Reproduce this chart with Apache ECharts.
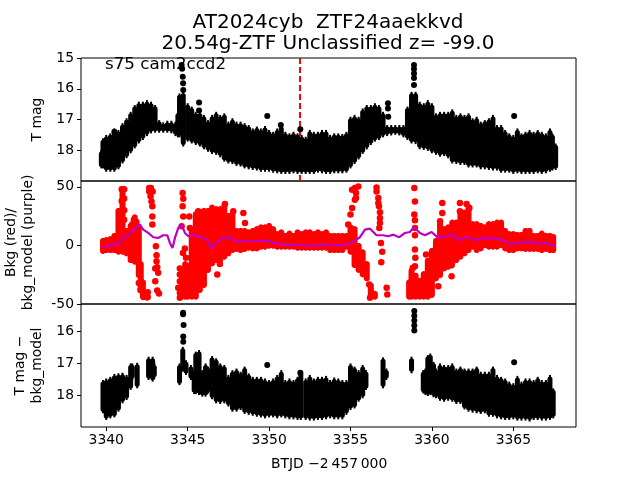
<!DOCTYPE html>
<html><head><meta charset="utf-8">
<style>html,body{margin:0;padding:0;background:#fff}#c{width:640px;height:480px}</style>
<script src="https://cdn.jsdelivr.net/npm/echarts@6/dist/echarts.min.js"></script>
</head><body><div id="c"></div>
<script>
const xTicks=[3340,3345,3350,3355,3360,3365];
const magTicks1=[15,16,17,18];
const bkgTicks=[-50,0,50];
const magTicks3=[16,17,18];
const titleText='AT2024cyb  ZTF24aaekkvd\n20.54g-ZTF Unclassified z= -99.0';
const sectorText='s75 cam2ccd2';
const markerTime=[3351.9,3351.9];
const markerMag=[15,19];

// panel 1: extent of the photometry at each time
const t1=[3339.7,3339.8,3340,3340.25,3340.5,3340.75,3341,3341.25,3341.5,3341.75,3342,3342.25,3342.5,3342.75,3343,3343.25,3343.5,3343.75,3344,3344.25,3344.4,3344.5,3344.73,3345,3345.25,3345.5,3345.75,3346,3346.25,3346.5,3346.75,3347,3347.25,3347.5,3347.75,3348,3348.25,3348.5,3348.75,3349,3349.25,3349.5,3349.75,3350,3350.25,3350.5,3350.75,3351,3351.25,3351.5,3351.75,3352,3352.25,3352.5,3352.75,3353,3353.25,3353.5,3353.75,3354,3354.25,3354.5,3354.75,3355,3355.25,3355.5,3355.75,3356,3356.25,3356.5,3356.75,3357,3357.25,3357.5,3357.75,3358,3358.25,3358.5,3358.75,3359,3359.25,3359.5,3359.75,3360,3360.25,3360.5,3360.75,3361,3361.25,3361.5,3361.75,3362,3362.25,3362.5,3362.75,3363,3363.25,3363.5,3363.75,3364,3364.25,3364.5,3364.75,3365,3365.25,3365.5,3365.75,3366,3366.25,3366.5,3366.75,3367,3367.25,3367.4,3367.6];
const top1=[17.99,17.61,17.50,17.45,17.29,17.34,17.12,16.96,16.75,16.53,16.42,16.42,16.37,16.42,16.53,17.02,17.09,17.04,17.04,17.07,16.75,16.15,16.10,16.47,16.58,16.75,16.75,16.85,17.02,16.85,16.75,16.85,16.80,17.07,16.96,17.07,17.07,17.12,17.18,17.29,17.23,17.29,17.21,17.34,17.40,17.29,17.18,17.40,17.45,17.40,17.45,17.50,17.56,17.34,17.40,17.40,17.34,17.34,17.50,17.45,17.45,17.47,17.40,16.91,16.85,16.91,16.64,16.53,16.53,16.47,16.53,16.75,17.18,17.18,17.18,17.18,17.18,16.58,16.10,16.10,16.42,16.47,16.37,16.47,16.80,16.75,16.75,16.75,16.67,16.85,16.80,16.85,16.80,16.96,16.91,17.07,17.02,16.96,16.85,17.18,17.18,17.34,17.45,17.50,17.29,17.45,17.40,17.34,17.40,17.34,17.40,17.45,17.29,17.45,17.78];
const bot1=[18.59,18.59,18.70,18.70,18.70,18.62,18.43,18.26,18.10,17.94,17.78,17.67,17.54,17.45,17.43,17.43,17.43,17.43,17.45,17.54,17.58,17.58,17.88,17.72,17.78,17.83,17.88,17.97,18.05,18.12,18.15,18.23,18.37,18.43,18.45,18.51,18.53,18.59,18.62,18.64,18.66,18.70,18.70,18.70,18.73,18.75,18.77,18.77,18.77,18.75,18.77,18.77,18.77,18.77,18.77,18.73,18.75,18.77,18.77,18.75,18.75,18.75,18.73,18.59,18.45,18.30,18.12,17.97,17.83,17.72,17.67,17.58,17.54,17.52,17.50,17.52,17.58,17.67,17.78,17.80,17.97,17.99,18.02,18.10,18.15,18.21,18.19,18.26,18.43,18.45,18.48,18.48,18.56,18.56,18.56,18.62,18.62,18.64,18.66,18.66,18.73,18.73,18.73,18.77,18.75,18.77,18.77,18.77,18.77,18.75,18.77,18.75,18.70,18.66,18.64];
const dots1=[[3344.63,15.23],[3344.66,15.35],[3344.7,15.61],[3344.72,15.82],[3344.73,16.04],[3345.7,16.45],[3345.7,16.71],[3349.89,16.89],[3351.92,17.32],[3350.72,17.18],[3357.3,16.47],[3357.3,16.64],[3357.32,16.91],[3358.9,15.23],[3358.9,15.36],[3358.9,15.5],[3358.9,15.65],[3358.9,15.88],[3365.05,16.89],[3339.95,17.75],[3340.5,17.4]];

// panel 2: extent of the background points at each time
const t2=[3339.8,3340,3340.25,3340.5,3340.75,3341,3341.25,3341.5,3341.75,3342,3342.12,3342.25,3342.5,3344.65,3344.85,3345,3345.25,3345.5,3345.75,3346,3346.25,3346.5,3346.75,3347,3347.25,3347.5,3347.75,3348,3348.25,3348.5,3348.75,3349,3349.25,3349.5,3349.75,3350,3350.25,3350.5,3350.75,3351,3351.25,3351.5,3351.75,3352,3352.25,3352.5,3352.75,3353,3353.25,3353.5,3353.75,3354,3354.25,3354.5,3354.75,3355,3355.25,3355.5,3355.75,3356,3356.25,3356.5,3358.6,3358.75,3359,3359.25,3359.5,3359.75,3360,3360.25,3360.5,3360.75,3361,3361.25,3361.5,3361.75,3362,3362.25,3362.5,3362.75,3363,3363.25,3363.5,3363.75,3364,3364.25,3364.5,3364.75,3365,3365.25,3365.5,3365.75,3366,3366.25,3366.5,3366.75,3367,3367.25,3367.45];
const top2=[6.4,7,7.8,10.65,32,49.5,14.9,19.2,26.3,17.8,-13.5,-29.1,-40.5,-19.2,-13.5,-14.9,14.9,29.1,30.5,32,32,34.8,33.4,33.4,36.2,27.7,29.1,14.9,14.9,14.9,13.5,14.9,16.3,17.8,17.8,19.2,16.3,12.1,13.5,10.65,12.6,10.65,13.5,12.1,13.5,13.5,12.1,13.5,12.1,13.5,10.65,10.65,10.65,10.65,10.65,17.8,16.3,2.1,-3.5,-13.5,-31.9,-39,-29.1,-19.2,-23.4,-27.7,-22,-10.6,-2.1,6.4,20.6,16.3,17.8,22,22,30.5,30.5,35.4,20.6,20.6,19.2,17.8,20.6,20.6,22,22,14.9,12.1,12.1,11.5,11.5,14.9,14.9,10.65,10.65,12.6,10.65,10.65,9.8];
const bot2=[-7.2,-6.4,-6.4,-6.4,-7.8,-7.8,-9.2,-14.9,-16.3,-27.7,-40.5,-46.1,-47,-46.1,-46.1,-46.1,-46.1,-46.1,-40.5,-36.2,-23.4,-17.7,-14.9,-14.9,-12,-9.2,-6.4,-5.5,-6.4,-5.5,-4.4,-5,-5,-3.5,-3.5,-2.7,-2.7,-3.5,-3.5,-3.5,-3.5,-3.5,-4.4,-4.4,-4.4,-4.4,-4.4,-4.4,-4.4,-4.4,-6.4,-6.4,-6.4,-6.4,-3.5,-7.8,-19.2,-23.4,-27.1,-30.5,-46.1,-46.1,-46.1,-46.1,-46.1,-46.1,-46.1,-46.1,-44.7,-30.5,-27.7,-22,-20.6,-17.7,-14.9,-12,-9.2,-6.4,-3.5,-6.4,-5,-2.1,-3.5,-3.5,-3.5,-2.1,-5,-6.4,-6.4,-5,-5,-5.5,-5.5,-5.5,-5.5,-6.4,-5.5,-6.4,-6.4];
const dots2=[[3340.95,48],[3341.1,48],[3341.1,40],[3340.95,38],[3341.1,30],[3340.85,25],[3341.1,22],[3341.7,22],[3341.85,20],[3341.6,18],[3342,-32],[3342.1,-38],[3342.3,-44],[3342.55,-44],[3342.55,-40],[3342.2,-33],[3342.64,49],[3342.74,49],[3342.64,46.1],[3342.85,46.1],[3342.72,41.9],[3342.78,37.6],[3342.83,33.4],[3342.83,24.8],[3342.83,17.8],[3343.05,-0.7],[3343.09,-8.4],[3343.09,-13.5],[3343.13,-18.6],[3343.01,-19.7],[3343.19,-23.4],[3343.01,-30.5],[3343.13,-38.5],[3343.24,-41],[3344.42,-36.2],[3344.52,-19.7],[3344.52,-24.8],[3344.52,-30.5],[3344.52,-40.5],[3344.52,-44.7],[3344.69,44.7],[3344.73,39.9],[3344.69,33.4],[3344.73,24.8],[3344.63,16.3],[3344.83,-2.7],[3344.71,-6.4],[3344.9,-10.6],[3345.1,24.8],[3345.14,14.9],[3345.65,29.1],[3346.82,-24.8],[3346.98,-15.8],[3347.29,35.4],[3347.8,29.1],[3348.42,27.7],[3348.52,19.2],[3355.48,50.4],[3355.27,49],[3355.1,47.6],[3355.34,44.7],[3355.34,40.5],[3355.27,39],[3355.1,32],[3355,26.3],[3354.86,17.8],[3356.6,49.5],[3356.6,46.1],[3356.71,40.5],[3356.71,36.2],[3356.75,33.4],[3356.81,28.3],[3356.81,23.4],[3356.81,19.2],[3356.77,14.9],[3356.87,2.1],[3356.95,-5.5],[3356.89,-14.3],[3357.22,-36.2],[3357.26,-41.9],[3358.92,49],[3358.96,37.6],[3358.92,26.3],[3358.96,21.4],[3358.96,14.9],[3358.96,8.7],[3358.96,-3.5],[3358.98,-10.6],[3358.96,-17.7],[3358.82,-19.2],[3360.64,36.2],[3360.64,27.7],[3360.5,20.6],[3361.72,36.2],[3361.72,29.1],[3362.13,35.4],[3362.3,32],[3361.21,-16.9],[3361.21,-26.3],[3360.39,-34.8],[3359.64,-7.8],[3356.15,-33.4],[3356.3,-40.5],[3356.2,-44.7]];
const modelTime=[3339.75,3340.02,3340.43,3340.74,3341.04,3341.35,3341.66,3341.9,3342.07,3342.27,3342.58,3342.89,3343.19,3343.5,3343.75,3343.91,3344.07,3344.22,3344.42,3344.63,3344.83,3345.04,3345.34,3345.75,3346.16,3346.47,3346.78,3347.19,3347.6,3348.01,3348.62,3349.23,3349.85,3350.46,3351.08,3351.9,3352.71,3353.53,3353.94,3354.76,3355.17,3355.58,3355.89,3356.2,3356.6,3357.01,3357.32,3357.63,3358,3358.35,3358.65,3358.9,3359.27,3359.57,3359.98,3360.39,3360.9,3361.31,3361.62,3362.13,3362.64,3363.15,3363.77,3364.28,3364.79,3365.41,3366.02,3366.63,3367.04,3367.55];
const modelBkg=[-1.3,-0.7,0.7,1.6,6.4,9.2,12.6,16.3,17.8,13.5,10.65,7,6.4,8.7,8.7,2.1,-2.1,6.4,14.9,17.8,10.65,7.8,8.7,7.8,5,-2.1,2.1,7,6.4,3.55,3.55,3.55,4.1,1.3,0.7,0.15,-0.1,0.7,0.15,0.7,3,7,13.5,14.3,8.7,8.7,7.8,9.2,7,10.65,11.5,15.5,10.65,8.7,11.5,6.4,7.8,9.2,4.4,7.2,4.4,6.4,5.8,5,1.3,2.1,3,1.6,2.1,-0.7];

// panel 3: extent of the background-corrected photometry at each time
const t3=[3339.8,3340,3340.25,3340.5,3340.75,3341,3341.25,3341.5,3341.6,3341.9,3342.6,3342.85,3342.95,3344.5,3344.7,3344.9,3345.2,3345.4,3345.5,3345.7,3345.9,3346.1,3346.25,3346.5,3346.75,3347,3347.25,3347.5,3347.75,3348,3348.25,3348.5,3348.75,3349,3349.25,3349.5,3349.75,3350,3350.25,3350.5,3350.75,3351,3351.25,3351.5,3351.75,3351.95,3352.25,3352.5,3352.75,3353,3353.25,3353.5,3353.75,3354,3354.25,3354.5,3354.75,3355,3355.25,3355.5,3355.75,3355.95,3357,3357.2,3358.75,3359.47,3359.6,3359.75,3359.9,3360.1,3360.25,3360.5,3360.75,3361,3361.25,3361.5,3361.75,3362,3362.25,3362.5,3362.75,3363,3363.25,3363.5,3363.75,3364,3364.25,3364.5,3364.75,3365,3365.25,3365.5,3365.75,3366,3366.25,3366.5,3366.75,3367,3367.25,3367.45];
const top3=[17.53,17.48,17.43,17.34,17.32,17.30,17.37,17.01,17.01,16.99,16.80,16.80,17.01,17.01,16.49,16.91,17.06,17.22,16.64,16.59,17.22,17.01,17.11,16.78,16.85,17.01,17.06,17.37,17.22,17.17,17.27,17.11,17.32,17.43,17.43,17.43,17.48,17.53,17.48,17.37,17.22,17.53,17.48,17.53,17.43,17.22,17.48,17.37,17.48,17.43,17.43,17.40,17.53,17.45,17.48,17.53,17.53,17.01,17.11,17.22,17.06,17.22,16.82,17.17,16.80,17.22,17.17,16.75,16.70,16.96,17.17,17.01,17.06,17.06,17.01,17.17,17.11,17.17,17.17,17.17,17.11,17.27,17.27,17.27,17.11,17.37,17.43,17.48,17.58,17.63,17.40,17.58,17.48,17.48,17.53,17.43,17.53,17.53,17.37,17.79];
const bot3=[18.57,18.78,18.73,18.70,18.52,18.26,18.155,17.84,17.53,17.79,17.53,17.58,17.48,17.69,17.27,17.37,17.53,17.97,17.97,18.0,18.05,18.05,17.95,18.13,18.26,18.28,18.26,18.36,18.52,18.52,18.47,18.59,18.62,18.65,18.68,18.70,18.73,18.70,18.70,18.73,18.70,18.73,18.76,18.76,18.78,18.78,18.78,18.80,18.80,18.78,18.78,18.76,18.73,18.76,18.76,18.76,18.62,18.47,18.42,18.21,18.10,17.84,17.79,17.53,17.32,17.95,18.0,18.03,18.0,18.07,18.10,18.18,18.21,18.18,18.21,18.28,18.28,18.45,18.52,18.55,18.57,18.59,18.57,18.68,18.68,18.73,18.76,18.78,18.78,18.76,18.80,18.80,18.80,18.83,18.78,18.78,18.80,18.80,18.78,18.73];
const dots3=[[3344.72,15.42],[3344.72,15.47],[3344.75,15.81],[3344.73,16.17],[3344.73,16.33],[3349.89,17.06],[3351.92,17.3],[3358.92,15.37],[3358.92,15.52],[3358.92,15.67],[3358.92,15.82],[3358.92,15.98],[3365.05,16.97]];

const frame={show:true,left:81,right:64,borderColor:'#000',borderWidth:1,outerBoundsMode:'none'};
const grids=[{...frame,top:58,height:123},{...frame,top:181,height:123},{...frame,top:304,height:123}];
function xAxis(i){
  const bottom=i===2;
  return {type:'value',gridIndex:i,min:3338.45,max:3368.85,
    splitLine:{show:false},axisLine:{show:false},
    axisTick:{show:bottom,length:4,customValues:xTicks,lineStyle:{color:'#000'}},
    axisLabel:{show:bottom,customValues:xTicks,formatter:v=>String(v),color:'#000',fontFamily:'DejaVu Sans',fontSize:13.9,margin:6}};
}
function yAxis(i,min,max,ticks,inverse,name,gap){
  return {type:'value',gridIndex:i,min,max,inverse,name,nameLocation:'middle',nameGap:gap,nameRotate:90,
    nameTextStyle:{color:'#000',fontFamily:'DejaVu Sans',fontSize:13.9,lineHeight:17},
    splitLine:{show:false},axisLine:{show:false},
    axisTick:{length:4,customValues:ticks,lineStyle:{color:'#000'}},
    axisLabel:{customValues:ticks,color:'#000',fontFamily:'DejaVu Sans',fontSize:13.9,margin:7}};
}
function band(i,t,top,bot,color,w,pointed){
  return {type:'custom',xAxisIndex:i,yAxisIndex:i,z:3,silent:true,animation:false,clip:true,
    data:t.map((v,k)=>[v,top[k],bot[k]]),
    renderItem:(p,api)=>{
      const a=api.coord([api.value(0),api.value(1)]),b=api.coord([api.value(0),api.value(2)]);
      const inset=Math.min(w*(pointed?0.8:0.5),Math.abs(b[1]-a[1])/2);
      return {type:'group',children:[
        {type:'line',shape:{x1:a[0],y1:a[1],x2:b[0],y2:b[1]},style:{stroke:color,lineWidth:2,fill:null}},
        {type:'line',shape:{x1:a[0],y1:a[1]+inset,x2:b[0],y2:b[1]-inset},style:{stroke:color,lineWidth:w,lineCap:'round',fill:null}}
      ]};
    }};
}
function dots(i,d,color,size){
  return {type:'scatter',xAxisIndex:i,yAxisIndex:i,z:4,silent:true,animation:false,data:d,symbol:'circle',symbolSize:size,itemStyle:{color,opacity:1}};
}
const chart=echarts.init(document.getElementById('c'),null,{renderer:'canvas'});
chart.setOption({
  animation:false,backgroundColor:'#fff',
  title:{text:titleText,left:323,top:7,textAlign:'center',
    textStyle:{color:'#000',fontFamily:'DejaVu Sans',fontWeight:'normal',fontSize:20,lineHeight:21}},
  graphic:[{type:'text',left:105,top:56,z:1,style:{text:sectorText,fill:'#000',font:'16.7px "DejaVu Sans"'}},
    {type:'text',left:271,top:457,style:{text:'BTJD \u22122\u202F457\u202F000',fill:'#000',font:'13.9px "DejaVu Sans"'}}],
  grid:grids,
  xAxis:[xAxis(0),xAxis(1),xAxis(2)],
  yAxis:[yAxis(0,15,19,magTicks1,true,'T mag',32),
         yAxis(1,-50,55,bkgTicks,false,'Bkg (red)/\nbkg_model (purple)',44),
         yAxis(2,15.15,19,magTicks3,true,'T mag \u2212\nbkg_model',35)],
  series:[
    {type:'line',xAxisIndex:0,yAxisIndex:0,z:2,silent:true,showSymbol:false,symbol:'none',
      data:markerTime.map((v,k)=>[v,markerMag[k]]),lineStyle:{color:'#f00',width:2,type:[6,3]}},
    band(0,t1,top1,bot1,'#000',5,true),dots(0,dots1,'#000',6),
    band(1,t2,top2,bot2,'#f00',6,false),dots(1,dots2,'#f00',6.5),
    {type:'line',xAxisIndex:1,yAxisIndex:1,z:5,silent:true,showSymbol:false,symbol:'none',
      data:modelTime.map((v,k)=>[v,modelBkg[k]]),lineStyle:{color:'#bb00c4',width:2.2}},
    band(2,t3,top3,bot3,'#000',5,true),dots(2,dots3,'#000',6)
  ]
});
</script></body></html>
